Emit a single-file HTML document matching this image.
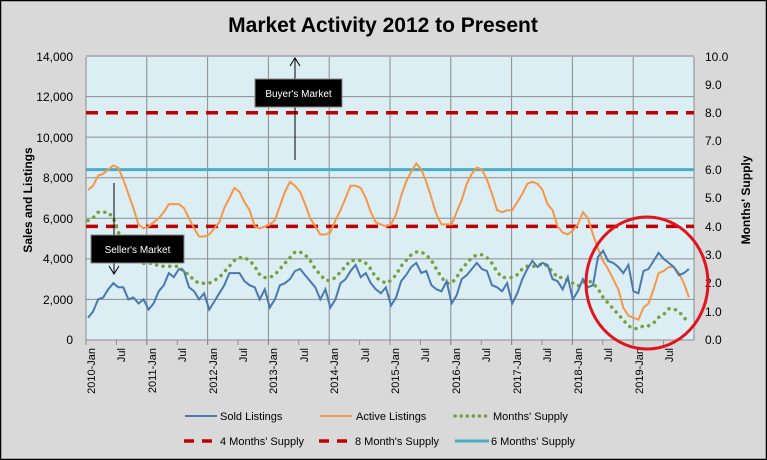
<!DOCTYPE html>
<html><head><meta charset="utf-8"><style>
html,body{margin:0;padding:0;background:#d9d9d9}
svg{display:block;font-family:"Liberation Sans",sans-serif}
</style></head><body>
<svg id="c" width="767" height="460" xmlns="http://www.w3.org/2000/svg">
<rect x="0.5" y="0.5" width="766" height="459" fill="#d9d9d9" stroke="#000" stroke-width="1.5"/>
<text x="383" y="32" text-anchor="middle" font-size="21" font-weight="bold" fill="#000">Market Activity 2012 to Present</text>
<rect x="86" y="57" width="608" height="283" fill="#dbeef4"/>
<g id="grid" stroke="#8c8c8c" stroke-width="1"></g>
<line x1="86" y1="57" x2="86" y2="340" stroke="#8c8c8c"/>
<line x1="694" y1="57" x2="694" y2="340" stroke="#8c8c8c"/>
<line x1="86" y1="340" x2="694" y2="340" stroke="#8c8c8c"/>
<line x1="86" y1="112.8" x2="694" y2="112.8" stroke="#c00000" stroke-width="3.5" stroke-dasharray="12,8"/>
<line x1="86" y1="226.4" x2="694" y2="226.4" stroke="#c00000" stroke-width="3.5" stroke-dasharray="12,8"/>
<line x1="86" y1="169.6" x2="694" y2="169.6" stroke="#4bacc6" stroke-width="3"/>
<polyline id="ms" fill="none" stroke="#77a03f" stroke-width="3.5" stroke-dasharray="0.1,6.6" stroke-linecap="round"/>
<polyline id="act" fill="none" stroke="#f79646" stroke-width="2"/>
<polyline id="sold" fill="none" stroke="#4a78b0" stroke-width="2"/>
<g font-size="12" fill="#000" text-anchor="end">
<text x="73" y="344">0</text><text x="73" y="304">2,000</text><text x="73" y="263">4,000</text><text x="73" y="223">6,000</text><text x="73" y="182">8,000</text><text x="73" y="142">10,000</text><text x="73" y="101">12,000</text><text x="73" y="61">14,000</text>
</g>
<g font-size="12" fill="#000">
<text x="705" y="344">0.0</text><text x="705" y="316">1.0</text><text x="705" y="287">2.0</text><text x="705" y="259">3.0</text><text x="705" y="231">4.0</text><text x="705" y="202">5.0</text><text x="705" y="174">6.0</text><text x="705" y="145">7.0</text><text x="705" y="117">8.0</text><text x="705" y="89">9.0</text><text x="705" y="61">10.0</text>
</g>
<text transform="translate(32,200) rotate(-90)" text-anchor="middle" font-size="12" font-weight="bold">Sales and Listings</text>
<text transform="translate(750,200) rotate(-90)" text-anchor="middle" font-size="12" font-weight="bold">Months' Supply</text>
<g id="xl" font-size="11" fill="#000" text-anchor="end">
<text transform="translate(95,348) rotate(-90)">2010-Jan</text>
<text transform="translate(125,348) rotate(-90)">Jul</text>
<text transform="translate(156,348) rotate(-90)">2011-Jan</text>
<text transform="translate(186,348) rotate(-90)">Jul</text>
<text transform="translate(217,348) rotate(-90)">2012-Jan</text>
<text transform="translate(247,348) rotate(-90)">Jul</text>
<text transform="translate(277,348) rotate(-90)">2013-Jan</text>
<text transform="translate(308,348) rotate(-90)">Jul</text>
<text transform="translate(338,348) rotate(-90)">2014-Jan</text>
<text transform="translate(369,348) rotate(-90)">Jul</text>
<text transform="translate(399,348) rotate(-90)">2015-Jan</text>
<text transform="translate(429,348) rotate(-90)">Jul</text>
<text transform="translate(460,348) rotate(-90)">2016-Jan</text>
<text transform="translate(490,348) rotate(-90)">Jul</text>
<text transform="translate(521,348) rotate(-90)">2017-Jan</text>
<text transform="translate(551,348) rotate(-90)">Jul</text>
<text transform="translate(582,348) rotate(-90)">2018-Jan</text>
<text transform="translate(612,348) rotate(-90)">Jul</text>
<text transform="translate(643,348) rotate(-90)">2019-Jan</text>
<text transform="translate(673,348) rotate(-90)">Jul</text>
</g>
<line x1="295" y1="160" x2="295" y2="59" stroke="#000" stroke-width="1"/>
<polyline points="290,66 295,58 300,66" fill="none" stroke="#000"/>
<rect x="255" y="79" width="87" height="28" fill="#000" stroke="#888"/>
<text x="298.5" y="97" text-anchor="middle" font-size="10" fill="#fff">Buyer's Market</text>
<line x1="114" y1="183" x2="114" y2="274" stroke="#000"/>
<polyline points="109,266 114,274 119,266" fill="none" stroke="#000"/>
<rect x="91" y="235" width="93" height="28" fill="#000" stroke="#888"/>
<text x="137.5" y="253" text-anchor="middle" font-size="10" fill="#fff">Seller's Market</text>
<ellipse cx="647" cy="283" rx="61" ry="66" fill="none" stroke="#e0141e" stroke-width="3"/>
<g font-size="11" fill="#000">
<line x1="185" y1="416" x2="217" y2="416" stroke="#4a78b0" stroke-width="2"/><text x="220" y="420">Sold Listings</text>
<line x1="320" y1="416" x2="352" y2="416" stroke="#f79646" stroke-width="2"/><text x="356" y="420">Active Listings</text>
<line x1="455" y1="416" x2="488" y2="416" stroke="#77a03f" stroke-width="3.5" stroke-dasharray="0.1,6" stroke-linecap="round"/><text x="493" y="420">Months' Supply</text>
<line x1="184" y1="441" x2="216" y2="441" stroke="#c00000" stroke-width="3.5" stroke-dasharray="10,8"/><text x="220" y="445">4 Months' Supply</text>
<line x1="319" y1="441" x2="351" y2="441" stroke="#c00000" stroke-width="3.5" stroke-dasharray="10,8"/><text x="355" y="445">8 Month's Supply</text>
<line x1="455" y1="441" x2="489" y2="441" stroke="#4bacc6" stroke-width="3"/><text x="491" y="445">6 Months' Supply</text>
</g>
</svg>
<script>
var sold=[1.1,1.4,2.0,2.1,2.5,2.8,2.6,2.6,2.0,2.1,1.8,2.0,1.5,1.8,2.4,2.7,3.3,3.1,3.5,3.4,2.6,2.4,2.0,2.3,1.5,1.9,2.3,2.7,3.3,3.3,3.3,2.9,2.7,2.6,2.0,2.5,1.6,2.0,2.7,2.8,3.0,3.4,3.5,3.2,2.9,2.6,2.0,2.5,1.6,2.0,2.8,3.0,3.4,3.7,3.1,3.3,2.8,2.5,2.3,2.6,1.7,2.1,2.9,3.2,3.6,3.8,3.3,3.4,2.7,2.5,2.4,2.9,1.8,2.2,3.0,3.2,3.5,3.8,3.5,3.4,2.7,2.6,2.4,2.8,1.8,2.3,3.0,3.5,3.9,3.6,3.8,3.7,3.0,2.9,2.5,3.1,2.0,2.4,3.0,2.6,2.7,4.1,4.4,3.9,3.8,3.6,3.3,3.7,2.4,2.3,3.4,3.5,3.9,4.3,4.0,3.8,3.6,3.2,3.3,3.5];
var act=[7.4,7.6,8.1,8.2,8.4,8.6,8.5,7.9,7.2,6.5,5.7,5.5,5.6,5.8,6.0,6.3,6.7,6.7,6.7,6.5,6.0,5.5,5.1,5.1,5.2,5.5,5.8,6.5,7.0,7.5,7.3,6.8,6.4,5.6,5.5,5.6,5.7,5.9,6.6,7.3,7.8,7.6,7.3,6.7,6.0,5.6,5.2,5.2,5.3,5.9,6.4,7.0,7.6,7.6,7.5,7.0,6.3,5.8,5.7,5.6,5.7,6.2,7.1,7.8,8.3,8.7,8.4,7.8,7.0,6.2,5.7,5.7,5.7,6.3,6.9,7.7,8.2,8.5,8.4,7.9,7.2,6.4,6.3,6.4,6.4,6.8,7.2,7.7,7.8,7.7,7.4,6.7,6.4,5.6,5.3,5.2,5.4,5.7,6.3,6.0,5.2,4.5,3.9,3.5,3.0,2.5,1.6,1.2,1.1,1.0,1.6,1.8,2.5,3.3,3.4,3.6,3.6,3.3,2.8,2.1];
var ms=[4.2,4.3,4.5,4.5,4.5,4.3,3.8,3.5,3.3,3.0,2.8,2.7,2.7,2.7,2.6,2.6,2.6,2.6,2.6,2.4,2.3,2.1,2.0,2.0,2.0,2.1,2.2,2.4,2.6,2.8,2.9,2.9,2.8,2.6,2.3,2.2,2.2,2.3,2.5,2.7,2.9,3.1,3.1,3.0,2.8,2.5,2.3,2.1,2.1,2.2,2.4,2.6,2.8,2.8,2.8,2.7,2.5,2.2,2.1,2.0,2.1,2.3,2.6,2.8,3.0,3.1,3.1,3.0,2.8,2.5,2.2,2.0,2.0,2.2,2.5,2.7,2.9,3.0,3.0,2.9,2.7,2.4,2.2,2.2,2.2,2.3,2.5,2.6,2.6,2.6,2.7,2.6,2.4,2.2,2.2,2.1,2.0,1.9,2.0,2.1,2.0,1.8,1.5,1.3,1.1,0.9,0.7,0.5,0.4,0.4,0.5,0.5,0.6,0.8,0.9,1.1,1.1,1.0,0.8,0.6];
function pts(a,s){return a.map(function(v,i){return (88+i*5.05).toFixed(1)+","+(340-v*s).toFixed(1)}).join(" ")}
document.getElementById("sold").setAttribute("points",pts(sold,20.286));
document.getElementById("act").setAttribute("points",pts(act,20.286));
document.getElementById("ms").setAttribute("points",pts(ms,28.4));
var g=document.getElementById("grid"),h="";
for(var k=1;k<=7;k++){var y=340-k*40.57;h+='<line x1="86" y1="'+y+'" x2="694" y2="'+y+'"/>';}
for(var j=1;j<10;j++){var x=86+j*60.8;h+='<line x1="'+x+'" y1="57" x2="'+x+'" y2="345"/>';}
for(var j=0;j<20;j++){var x=86+j*30.4;h+='<line x1="'+x+'" y1="340" x2="'+x+'" y2="345"/>';}
g.innerHTML=h;
</script>
</body></html>
